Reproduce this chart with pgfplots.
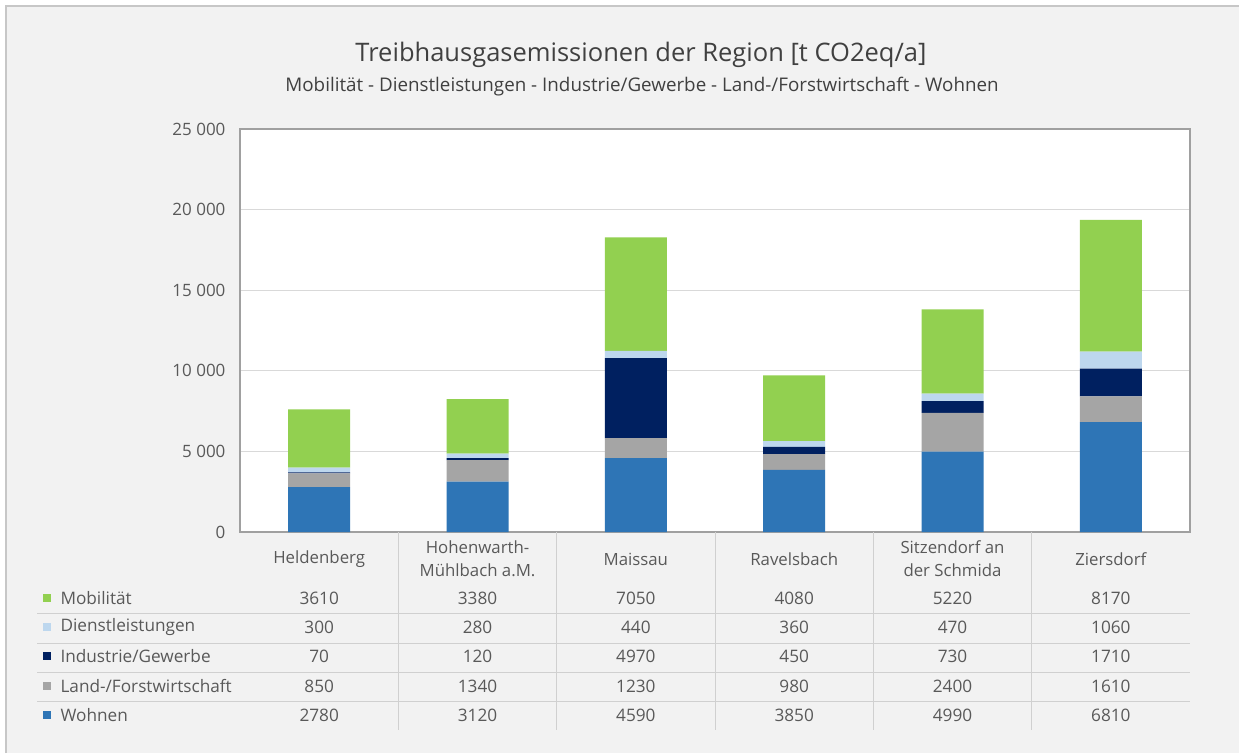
\documentclass[border=0pt]{standalone}
\usepackage{pgfplots}
\pgfplotsset{compat=1.18}
\usepackage{pgfplotstable}
\usepackage{fontspec}
\setmainfont{Open Sans}
\definecolor{cMob}{HTML}{92D050}
\definecolor{cDie}{HTML}{BDD7EE}
\definecolor{cInd}{HTML}{002060}
\definecolor{cLan}{HTML}{A5A5A5}
\definecolor{cWoh}{HTML}{2E75B6}
\definecolor{bg}{HTML}{F2F2F2}
\definecolor{txt}{HTML}{595959}
\definecolor{ttl}{HTML}{404040}
\definecolor{gridc}{HTML}{D9D9D9}
\definecolor{framec}{HTML}{A0A0A0}
\definecolor{tabline}{HTML}{D0D0D0}

\pgfplotstableread{
x W L I D M
0 2780 850 70 300 3610
1 3120 1340 120 280 3380
2 4590 1230 4970 440 7050
3 3850 980 450 360 4080
4 4990 2400 730 470 5220
5 6810 1610 1710 1060 8170
}\data

\begin{document}
\begin{tikzpicture}[x=1pt,y=1pt]
\useasboundingbox (0,0) rectangle (1239,753);
\fill[white] (0,0) rectangle (1239,753);
\fill[bg] (6,0) rectangle (1239,747);
\draw[gridc!80!gray, line width=2pt] (6,0) -- (6,747) -- (1239,747);
\node[ttl, font=\fontsize{25.5}{30}\selectfont] at (641,698) {Treibhausgasemissionen der Region [t CO2eq/a]};
\node[ttl, font=\fontsize{18.8}{22}\selectfont] at (642,666) {Mobilität - Dienstleistungen - Industrie/Gewerbe -  Land-/Forstwirtschaft - Wohnen};
\begin{axis}[
  at={(240pt,221pt)}, anchor=south west,
  scale only axis, width=950pt, height=403pt,
  xmin=-0.5, xmax=5.5, ymin=0, ymax=25000,
  xtick=\empty,
  scaled y ticks=false,
  ytick={0,5000,10000,15000,20000,25000},
  yticklabels={0,5 000,10 000,15 000,20 000,25 000},
  yticklabel style={font=\fontsize{17}{19}\selectfont, text=txt, xshift=-11pt},
  major tick length=0pt,
  ymajorgrids, grid style={gridc, line width=1.2pt},
  axis line style={framec, line width=1.5pt},
  axis background/.style={fill=white},
  ybar stacked, bar width=62pt,
  every axis plot/.append style={draw=none},
  clip=false,
]
\addplot[fill=cWoh] table[x=x,y=W]{\data};
\addplot[fill=cLan] table[x=x,y=L]{\data};
\addplot[fill=cInd] table[x=x,y=I]{\data};
\addplot[fill=cDie] table[x=x,y=D]{\data};
\addplot[fill=cMob] table[x=x,y=M]{\data};
\end{axis}
% data table
\foreach \k in {1,...,5}{
  \draw[tabline, line width=1pt] ({240+158.333*\k},221) -- ({240+158.333*\k},23);
}
\foreach \yy in {140,110,81,52}{
  \draw[tabline, line width=1pt] (37,\yy) -- (1190,\yy);
}
\begin{scope}[every node/.style={text=txt, font=\fontsize{16.8}{23}\selectfont, align=center}]
\node at (319.2,194) {Heldenberg};
\node at (477.5,194) {Hohenwarth-\\Mühlbach a.M.};
\node at (635.8,194) {Maissau};
\node at (794.2,194) {Ravelsbach};
\node at (952.5,194) {Sitzendorf an\\der Schmida};
\node at (1110.8,194) {Ziersdorf};
\end{scope}
\begin{scope}[every node/.style={text=txt, font=\fontsize{17.2}{20}\selectfont}]
\fill[cMob] (43,151) rectangle (51,159); \node[anchor=west] at (57,155) {Mobilität};
\fill[cDie] (43,122) rectangle (51,130); \node[anchor=west] at (57,126) {Dienstleistungen};
\fill[cInd] (43,93) rectangle (51,101); \node[anchor=west] at (57,97) {Industrie/Gewerbe};
\fill[cLan] (43,63) rectangle (51,71); \node[anchor=west] at (57,67) {Land-/Forstwirtschaft};
\fill[cWoh] (43,34) rectangle (51,42); \node[anchor=west] at (57,38) {Wohnen};
\foreach \r in {0,...,5}{
  \pgfmathsetmacro{\cx}{240+158.333*(\r+0.5)}
  \pgfplotstablegetelem{\r}{M}\of\data \node at (\cx,155) {\pgfplotsretval};
  \pgfplotstablegetelem{\r}{D}\of\data \node at (\cx,126) {\pgfplotsretval};
  \pgfplotstablegetelem{\r}{I}\of\data \node at (\cx,97) {\pgfplotsretval};
  \pgfplotstablegetelem{\r}{L}\of\data \node at (\cx,67) {\pgfplotsretval};
  \pgfplotstablegetelem{\r}{W}\of\data \node at (\cx,38) {\pgfplotsretval};
}
\end{scope}
\end{tikzpicture}
\end{document}
